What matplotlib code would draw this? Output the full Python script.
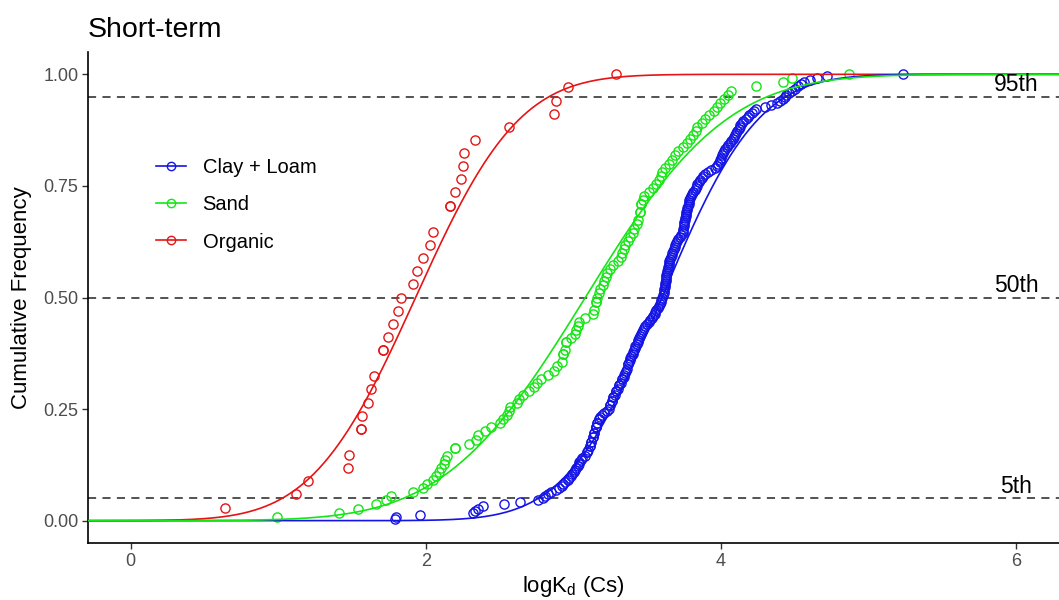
import numpy as np
import matplotlib
matplotlib.use("Agg")
import matplotlib.pyplot as plt
from matplotlib.lines import Line2D
from math import erf, sqrt

plt.rcParams["font.family"] = ["Liberation Sans", "DejaVu Sans"]
plt.rcParams["mathtext.fontset"] = "custom"
plt.rcParams["mathtext.rm"] = "Liberation Sans"
plt.rcParams["mathtext.it"] = "Liberation Sans:italic"

# Observed logKd (Cs) values per soil group
organic_kd = [0.64, 1.12, 1.20, 1.47, 1.48, 1.56, 1.56, 1.57, 1.61, 1.63, 1.65,
              1.71, 1.71, 1.74, 1.78, 1.81, 1.83, 1.91, 1.94, 1.98, 2.03, 2.05,
              2.16, 2.16, 2.20, 2.24, 2.25, 2.26, 2.33, 2.56, 2.87, 2.88, 2.96,
              3.29]

sand_kd = [0.99, 1.41, 1.54, 1.66, 1.73, 1.76, 1.91, 1.98, 2.01, 2.05,
           2.07, 2.09, 2.10, 2.12, 2.13, 2.14, 2.20, 2.20, 2.29, 2.34,
           2.35, 2.40, 2.44, 2.50, 2.52, 2.55, 2.56, 2.57, 2.62, 2.63,
           2.66, 2.70, 2.73, 2.75, 2.78, 2.83, 2.87, 2.89, 2.92, 2.93,
           2.93, 2.94, 2.95, 2.95, 2.98, 3.01, 3.02, 3.03, 3.04, 3.08,
           3.13, 3.14, 3.15, 3.15, 3.16, 3.17, 3.18, 3.20, 3.21, 3.22,
           3.23, 3.25, 3.27, 3.30, 3.32, 3.33, 3.34, 3.35, 3.37, 3.38,
           3.40, 3.41, 3.43, 3.44, 3.45, 3.45, 3.46, 3.46, 3.47, 3.48,
           3.51, 3.54, 3.56, 3.58, 3.59, 3.60, 3.62, 3.65, 3.67, 3.69,
           3.71, 3.74, 3.77, 3.79, 3.81, 3.83, 3.84, 3.87, 3.89, 3.92,
           3.95, 3.97, 3.99, 4.02, 4.05, 4.07, 4.24, 4.42, 4.48, 4.87]

clay_loam_kd = [1.79, 1.80, 1.96, 2.32, 2.33, 2.35, 2.39, 2.53, 2.64, 2.76,
                2.79, 2.81, 2.83, 2.85, 2.88, 2.90, 2.92, 2.93, 2.94, 2.96,
                2.97, 2.98, 2.99, 3.00, 3.01, 3.02, 3.03, 3.035, 3.04, 3.05,
                3.06, 3.08, 3.09, 3.09, 3.10, 3.11, 3.11, 3.12, 3.12, 3.13,
                3.13, 3.14, 3.14, 3.15, 3.15, 3.15, 3.16, 3.16, 3.17, 3.17,
                3.18, 3.19, 3.21, 3.23, 3.24, 3.25, 3.25, 3.26, 3.26, 3.27,
                3.27, 3.28, 3.29, 3.29, 3.30, 3.31, 3.31, 3.32, 3.33, 3.33,
                3.34, 3.345, 3.35, 3.355, 3.36, 3.37, 3.37, 3.375, 3.38, 3.385,
                3.39, 3.40, 3.405, 3.41, 3.415, 3.42, 3.43, 3.435, 3.44, 3.445,
                3.45, 3.46, 3.465, 3.47, 3.48, 3.485, 3.50, 3.51, 3.52, 3.53,
                3.54, 3.55, 3.555, 3.56, 3.57, 3.58, 3.585, 3.59, 3.595, 3.60,
                3.605, 3.61, 3.612, 3.615, 3.618, 3.62, 3.622, 3.624, 3.626, 3.628,
                3.63, 3.632, 3.635, 3.64, 3.642, 3.645, 3.648, 3.65, 3.655, 3.66,
                3.665, 3.67, 3.675, 3.68, 3.685, 3.69, 3.695, 3.70, 3.71, 3.72,
                3.73, 3.74, 3.742, 3.745, 3.748, 3.75, 3.752, 3.755, 3.758, 3.76,
                3.762, 3.765, 3.768, 3.77, 3.775, 3.78, 3.782, 3.785, 3.79, 3.795,
                3.80, 3.81, 3.82, 3.83, 3.835, 3.84, 3.85, 3.86, 3.87, 3.88,
                3.89, 3.91, 3.93, 3.96, 3.97, 3.98, 3.99, 3.995, 4.00, 4.005,
                4.01, 4.02, 4.03, 4.04, 4.05, 4.06, 4.07, 4.08, 4.09, 4.095,
                4.10, 4.11, 4.12, 4.125, 4.13, 4.14, 4.15, 4.17, 4.18, 4.19,
                4.21, 4.22, 4.24, 4.30, 4.34, 4.38, 4.40, 4.42, 4.43, 4.44,
                4.46, 4.48, 4.50, 4.52, 4.54, 4.56, 4.60, 4.65, 4.72, 5.23]

# Fitted normal distribution parameters (mean, sd) of logKd
groups = ["Clay + Loam", "Sand", "Organic"]
fit_mean = [3.60, 3.08, 1.93]
fit_sd = [0.51, 0.75, 0.55]
colors = ["#1414e6", "#14e614", "#e61414"]

percentiles = [0.05, 0.50, 0.95]
percentile_labels = ["5th", "50th", "95th"]

data = {"Clay + Loam": clay_loam_kd, "Sand": sand_kd, "Organic": organic_kd}


def ecdf(values):
    v = np.sort(np.asarray(values, dtype=float))
    y = np.searchsorted(v, v, side="right") / len(v)
    return v, y


def norm_cdf(x, mu, sd):
    return np.array([0.5 * (1 + erf((xi - mu) / (sd * sqrt(2)))) for xi in x])


fig = plt.figure(figsize=(10.59, 6.0), dpi=100)
ax = fig.add_axes([88 / 1059, 57 / 600, 971 / 1059, 491 / 600])

xgrid = np.linspace(-0.3, 6.3, 600)

# draw order: organic, clay + loam, sand (sand on top)
order = [2, 0, 1]
for i in order:
    g = groups[i]
    xs, ys = ecdf(data[g])
    ax.plot(xs, ys, linestyle="none", marker="o", markersize=6.6,
            markerfacecolor="none", markeredgecolor=colors[i],
            markeredgewidth=1.0, zorder=2)
for i in order:
    ax.plot(xgrid, norm_cdf(xgrid, fit_mean[i], fit_sd[i]), color=colors[i],
            linewidth=1.2, zorder=3)

for p, lab in zip(percentiles, percentile_labels):
    ax.axhline(p, color="#444444", linewidth=1.3, linestyle=(0, (4.5, 3.5)),
               zorder=1)
    ax.text(6.0, p + 0.027, lab, ha="center", va="center", fontsize=16.5,
            color="black")

ax.set_xlim(-0.29, 6.29)
ax.set_ylim(-0.05, 1.05)
ax.set_xticks([0, 2, 4, 6])
ax.set_yticks([0.0, 0.25, 0.5, 0.75, 1.0])
ax.set_yticklabels(["0.00", "0.25", "0.50", "0.75", "1.00"])
ax.tick_params(axis="both", direction="out", length=4, width=1.0,
               color="#333333", labelcolor="#4d4d4d", labelsize=13, pad=3)

for side in ["top", "right"]:
    ax.spines[side].set_visible(False)
for side in ["left", "bottom"]:
    ax.spines[side].set_linewidth(1.2)
    ax.spines[side].set_color("black")

ax.set_xlabel(r"logK$_\mathrm{d}$ (Cs)", fontsize=16, labelpad=3)
ax.set_ylabel("Cumulative Frequency", fontsize=16, labelpad=8)

handles = [Line2D([0], [0], color=c, linewidth=1.2, marker="o", markersize=6,
                  markerfacecolor="none", markeredgecolor=c,
                  markeredgewidth=1.0) for c in colors]
ax.legend(handles, groups, loc="upper left",
          bbox_to_anchor=(0.062, 0.80), frameon=False, fontsize=14.5,
          handlelength=1.5, handletextpad=0.8, labelspacing=0.9,
          borderaxespad=0)

fig.text(88 / 1059, 1 - 37 / 600, "Short-term", fontsize=20.5, ha="left",
         va="baseline")

fig.savefig("out.png", dpi=100)
